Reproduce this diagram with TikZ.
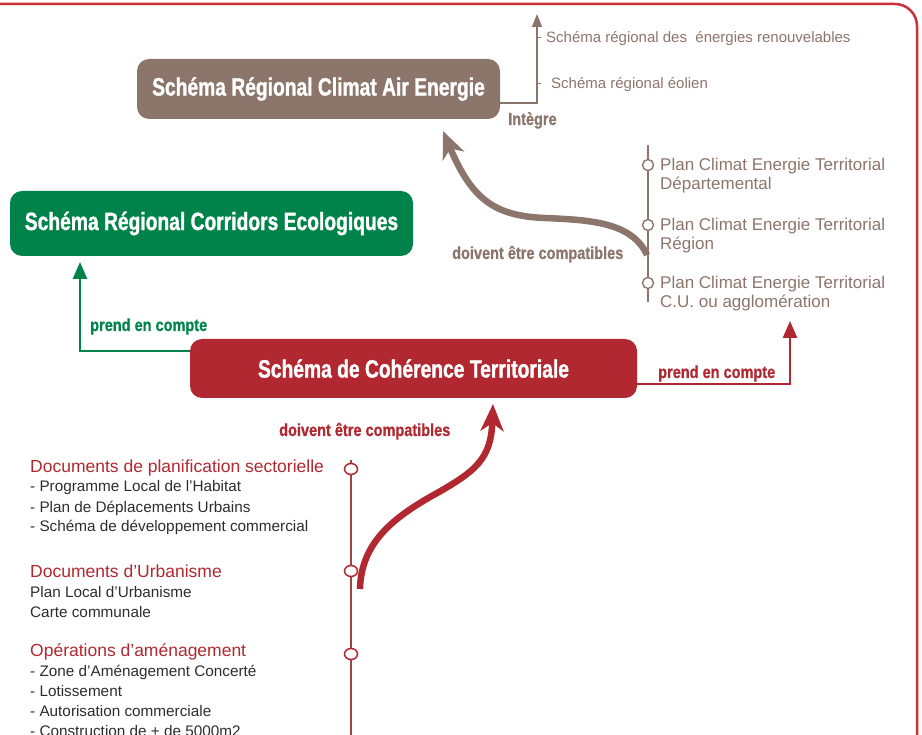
\documentclass[tikz,border=0pt]{standalone}
\usepackage{fontspec}
\setmainfont{Liberation Sans}
\newfontfamily\titlefont[FakeStretch=0.77,FakeBold=1.2]{Liberation Sans}
\newfontfamily\labfont[FakeStretch=0.83,FakeBold=0.8]{Liberation Sans}
\usetikzlibrary{arrows.meta,shapes.geometric}
\definecolor{brn}{RGB}{140,117,107}
\definecolor{grn}{RGB}{0,131,74}
\definecolor{rd}{RGB}{178,40,48}
\definecolor{frame}{RGB}{204,48,58}
\definecolor{txt}{RGB}{45,45,45}
\definecolor{tl}{RGB}{150,70,72}
\begin{document}
\begin{tikzpicture}[x=1pt,y=-1pt,
  bigbox/.style={rounded corners=12pt, text=white, inner sep=0pt,
    font=\titlefont\bfseries\fontsize{25}{25}\selectfont},
  lab/.style={inner sep=0pt, anchor=base west, font=\labfont\bfseries\fontsize{17.5}{19}\selectfont},
  head/.style={inner sep=0pt, anchor=base west, text=rd, font=\fontsize{17.5}{19}\selectfont},
  item/.style={inner sep=0pt, anchor=base west, text=txt, font=\fontsize{15.3}{20}\selectfont},
  pitem/.style={inner sep=0pt, anchor=base west, text=brn, font=\fontsize{17}{19}\selectfont},
  sitem/.style={inner sep=0pt, anchor=base west, text=brn, font=\fontsize{15}{18}\selectfont},
  conn/.style={line width=2.6pt, -{Triangle[length=17pt,width=14pt]}},
  thick curve/.style={line width=6.5pt, -{Stealth[length=27pt,width=23pt,inset=8pt]}},
  dot/.style={circle, draw, fill=white, line width=1.4pt, minimum size=11pt, inner sep=0pt},
  rdot/.style={ellipse, draw=rd, fill=white, line width=1.5pt, minimum width=13pt, minimum height=11pt, inner sep=0pt}
]
\useasboundingbox (0,0) rectangle (922,735);

% frame
\draw[frame, line width=2.5pt, rounded corners=22pt] (-5,4) -- (917,4) -- (917,745);

% boxes
\node[bigbox, fill=brn, minimum width=363pt, minimum height=60pt] (sraet) at (318.5,89) {Schéma Régional Climat Air Energie};
\node[bigbox, fill=grn, minimum width=403pt, minimum height=65pt] (srce) at (211.5,223.5) {Schéma Régional Corridors Ecologiques};
\node[bigbox, fill=rd, minimum width=447pt, minimum height=59pt] (scot) at (413.5,368.5) {Schéma de Cohérence Territoriale};

% Integre
\coordinate (itop) at (537,14);
\draw[brn, line width=1.6pt, -{Triangle[length=13pt,width=10pt]}] ([yshift=-14pt]sraet.east) -| (itop);
\draw[brn, line width=1pt] (537,38) -- (541,38) (537,84) -- (541,84);
\node[sitem] (sre) at (546,43) {Schéma régional des\ \ énergies renouvelables};
\node[sitem] (seo) at (551,89) {Schéma régional éolien};
\node[lab, text=brn] (integre) at (508,125) {Intègre};

% brown timeline
\coordinate (btop) at (648,145);
\coordinate (bbot) at (648,302);
\draw[brn, line width=1.4pt] (btop) -- (bbot);
\node[dot, draw=brn] (pc1) at (648,165) {};
\node[dot, draw=brn] (pc2) at (648,225) {};
\node[dot, draw=brn] (pc3) at (648,283) {};
\node[pitem] (p1a) at (660,171) {Plan Climat Energie Territorial};
\node[pitem] (p1b) at (660,190) {Départemental};
\node[pitem] (p2a) at (660,231) {Plan Climat Energie Territorial};
\node[pitem] (p2b) at (660,250) {Région};
\node[pitem] (p3a) at (660,289) {Plan Climat Energie Territorial};
\node[pitem] (p3b) at (660,308) {C.U. ou agglomération};

% brown compatibility curve
\coordinate (bstart) at (647,255);
\coordinate (bend) at (443,131);
\draw[brn, thick curve] (bstart) .. controls (632,222) and (590,220) .. (545,218)
   .. controls (495,216) and (472,200) .. (bend);
\node[lab, text=brn] (bcomp) at (452,259) {doivent être compatibles};

% green connector
\coordinate (gtop) at (80,262);
\draw[grn, conn] ([yshift=17.5pt]scot.west) -| (gtop);
\node[lab, text=grn] (gpc) at (90,331) {prend en compte};

% red connector to PCET
\coordinate (rtop) at (790,321);
\draw[rd, conn] ([yshift=-15.5pt]scot.east) -| (rtop);
\node[lab, text=rd] (rpc) at (658,378) {prend en compte};

% red timeline
\coordinate (rltop) at (351,460);
\coordinate (rlbot) at (351,740);
\draw[tl, line width=1.4pt] (rltop) -- (rlbot);
\node[rdot] (d1) at (351,469) {};
\node[rdot] (d2) at (351,571) {};
\node[rdot] (d3) at (351,654) {};

% red compatibility curve
\coordinate (rstart) at (360,589);
\coordinate (rend) at (493,404);
\draw[rd, thick curve] (rstart) .. controls (361,545) and (390,520) .. (430,497)
   .. controls (475,472) and (491,460) .. (rend);
\node[lab, text=rd] (rcomp) at (279,436) {doivent être compatibles};

% left lists
\node[head] (h1) at (30,472) {Documents de planification sectorielle};
\node[item] (i11) at (30,492) {- Programme Local de l’Habitat};
\node[item] (i12) at (30,512) {- Plan de Déplacements Urbains};
\node[item] (i13) at (30,532) {- Schéma de développement commercial};
\node[head] (h2) at (30,577) {Documents d’Urbanisme};
\node[item] (i21) at (30,597) {Plan Local d’Urbanisme};
\node[item] (i22) at (30,617) {Carte communale};
\node[head] (h3) at (30,656) {Opérations d’aménagement};
\node[item] (i31) at (30,676) {- Zone d’Aménagement Concerté};
\node[item] (i32) at (30,696) {- Lotissement};
\node[item] (i33) at (30,716) {- Autorisation commerciale};
\node[item] (i34) at (30,736) {- Construction de + de 5000m2};
\end{tikzpicture}
\end{document}
